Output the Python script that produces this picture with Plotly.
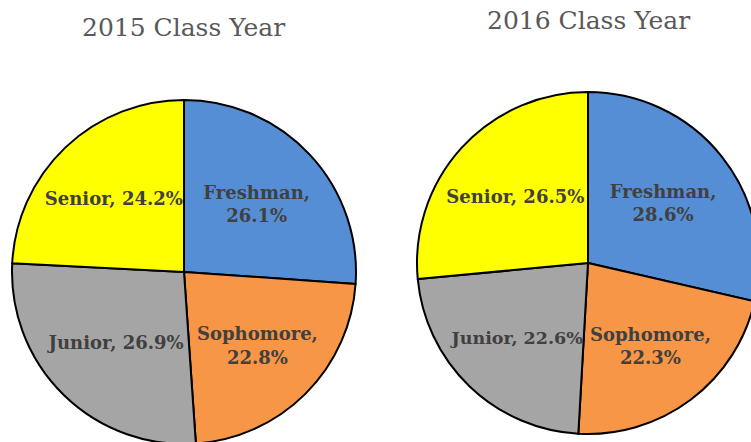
import plotly.graph_objects as go

categories = ["Freshman", "Sophomore", "Junior", "Senior"]
values_2015 = [26.1, 22.8, 26.9, 24.2]
values_2016 = [28.6, 22.3, 22.6, 26.5]
titles = ["2015 Class Year", "2016 Class Year"]
colors = ["#558ED5", "#F79646", "#A5A5A5", "#FFFF00"]

# figure slightly larger than the window so the pies are cropped like the reference
W, H = 760, 446

def labels_for(vals):
    out = []
    for c, v in zip(categories, vals):
        if c in ("Freshman", "Sophomore"):
            out.append(f"{c},<br>{v:.1f}%")
        else:
            out.append(f"{c}, {v:.1f}%")
    return out

def pie(vals, dom_x, dom_y):
    return go.Pie(
        labels=categories,
        values=vals,
        text=labels_for(vals),
        textinfo="text",
        textposition="inside",
        insidetextorientation="horizontal",
        sort=False,
        direction="clockwise",
        rotation=0,
        marker=dict(colors=colors, line=dict(color="black", width=2)),
        textfont=dict(family="DejaVu Serif", size=18, color="#404040", weight="bold"),
        domain=dict(x=dom_x, y=dom_y),
        showlegend=False,
        hoverinfo="label+percent",
    )

fig = go.Figure()
fig.add_trace(pie(values_2015, [12 / W, 356 / W], [2 / H, 346 / H]))
fig.add_trace(pie(values_2016, [417 / W, 759 / W], [12 / H, 354 / H]))

fig.add_annotation(text=titles[0], x=183 / W, y=1 - 28 / H, xref="paper", yref="paper",
                   showarrow=False, xanchor="center", yanchor="middle",
                   font=dict(family="DejaVu Serif", size=25, color="#595959"))
fig.add_annotation(text=titles[1], x=588 / W, y=1 - 20 / H, xref="paper", yref="paper",
                   showarrow=False, xanchor="center", yanchor="middle",
                   font=dict(family="DejaVu Serif", size=25, color="#595959"))

fig.update_layout(
    width=W, height=H,
    margin=dict(l=0, r=0, t=0, b=0),
    paper_bgcolor="white",
    plot_bgcolor="white",
)

fig.write_html(
    "out.html",
    config={"displayModeBar": False},
    post_script="document.body.style.margin='0';document.body.style.overflow='hidden';",
)
